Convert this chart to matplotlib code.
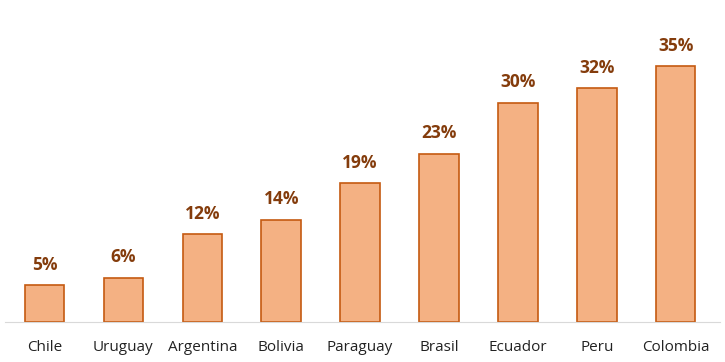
import matplotlib
matplotlib.use("Agg")
from matplotlib import pyplot as plt

countries = ["Chile", "Uruguay", "Argentina", "Bolivia", "Paraguay",
             "Brasil", "Ecuador", "Peru", "Colombia"]
values = [5, 6, 12, 14, 19, 23, 30, 32, 35]

plt.rcParams['font.family'] = ['Open Sans', 'DejaVu Sans']

fig = plt.figure(figsize=(7.25, 3.62), dpi=100)
ax = fig.add_axes([0.0, 0.1105, 1.0, 0.807])

x = range(len(countries))
bars = ax.bar(x, values, 0.5, color="#F4B183", edgecolor="#C55A11", linewidth=1.2)
for xi, v in zip(x, values):
    ax.text(xi, v + 1.6, f"{v}%", ha="center", va="bottom",
            fontsize=12.5, fontweight="bold", color="#843C0C")

ax.set_xlim(-0.564, 8.625)
ax.set_ylim(0, 40)
ax.set_xticks(list(x))
ax.set_xticklabels(countries, fontsize=11, color="#222222")
ax.tick_params(axis="x", length=0, pad=13)
ax.set_yticks([])
for side in ["top", "right", "left"]:
    ax.spines[side].set_visible(False)
ax.spines["bottom"].set_color("#D9D9D9")
ax.spines["bottom"].set_bounds(-0.5, 8.56)

fig.savefig("out.png", dpi=100)
